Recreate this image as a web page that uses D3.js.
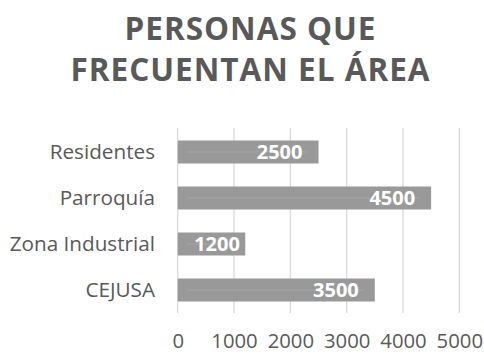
<!DOCTYPE html>
<html>
<head>
<meta charset="utf-8">
<script src="https://cdn.jsdelivr.net/npm/d3@7/dist/d3.min.js"></script>
<style>
  html, body { margin: 0; padding: 0; background: #fff; }
  svg { display: block; }
</style>
</head>
<body>
<div id="chart"></div>
<script>
// Chart data
const categories = ["Residentes", "Parroquía", "Zona Industrial", "CEJUSA"];
const values = [2500, 4500, 1200, 3500];
const tickValues = [0, 1000, 2000, 3000, 4000, 5000];
const titleLines = ["PERSONAS QUE", "FRECUENTAN EL ÁREA"];

const W = 484, H = 354;
const font = "'Open Sans', 'Noto Sans', sans-serif";
const textColor = "#595959";

const svg = d3.select("#chart").append("svg")
  .attr("width", W).attr("height", H);

// Title
const titleSpacing = 1;
svg.append("g").selectAll("text")
  .data(titleLines)
  .join("text")
  .attr("x", 250 + titleSpacing / 2)
  .attr("y", (d, i) => 39.5 + i * 41)
  .attr("text-anchor", "middle")
  .attr("font-family", font)
  .attr("font-weight", "bold")
  .attr("font-size", 31.5)
  .attr("letter-spacing", titleSpacing)
  .attr("fill", textColor)
  .text(d => d);

// Scales
const x = d3.scaleLinear().domain([0, 5000]).range([177.7, 459.3]);
const y = d3.scaleBand().domain(categories).range([129, 313]).paddingInner(0.5).paddingOuter(0.25);

// Gridlines
svg.append("g").selectAll("line")
  .data(tickValues)
  .join("line")
  .attr("x1", d => x(d)).attr("x2", d => x(d))
  .attr("y1", 128).attr("y2", 313)
  .attr("stroke", "#d9d9d9")
  .attr("stroke-width", 1.3);

// Bottom axis labels (baseline near the lower edge)
const xAxis = d3.axisBottom(x).tickValues(tickValues).tickSize(0).tickPadding(0).tickFormat(d3.format("d"));
const gx = svg.append("g").attr("transform", "translate(0,348)").call(xAxis);
gx.select(".domain").remove();
gx.selectAll("text")
  .attr("font-family", font)
  .attr("font-size", 20.3)
  .attr("fill", textColor)
  .attr("dy", 0);

// Category labels
const yAxis = d3.axisLeft(y).tickSize(0).tickPadding(0);
const gy = svg.append("g").attr("transform", "translate(155,0)").call(yAxis);
gy.select(".domain").remove();
gy.selectAll("text")
  .attr("font-family", font)
  .attr("font-size", 20.7)
  .attr("fill", textColor)
  .attr("dy", "0.36em");

// Bars
const rows = categories.map((c, i) => ({ c, v: values[i] }));
const bars = svg.append("g").selectAll("g")
  .data(rows)
  .join("g");

bars.append("rect")
  .attr("x", x(0))
  .attr("y", d => y(d.c))
  .attr("width", d => x(d.v) - x(0))
  .attr("height", y.bandwidth())
  .attr("fill", "#999999");

// faint highlight stroke through the bar
bars.append("line")
  .attr("x1", x(0) + 9)
  .attr("x2", d => x(d.v) - 11)
  .attr("y1", d => y(d.c) + y.bandwidth() / 2)
  .attr("y2", d => y(d.c) + y.bandwidth() / 2)
  .attr("stroke", "#a6a6a6")
  .attr("stroke-width", 1.2);

// Value labels, inside end
bars.append("text")
  .attr("font-family", font)
  .attr("font-weight", "bold")
  .attr("font-size", 20)
  .attr("fill", "#ffffff")
  .attr("text-anchor", "start")
  .attr("y", d => y(d.c) + y.bandwidth() / 2)
  .attr("dy", "0.36em")
  .text(d => d.v)
  .each(function (d) {
    const w = this.getComputedTextLength();
    const end = Math.max(x(d.v) - 16, x(0) + 16.5 + w);
    d3.select(this).attr("x", end - w);
  });
</script>
</body>
</html>
